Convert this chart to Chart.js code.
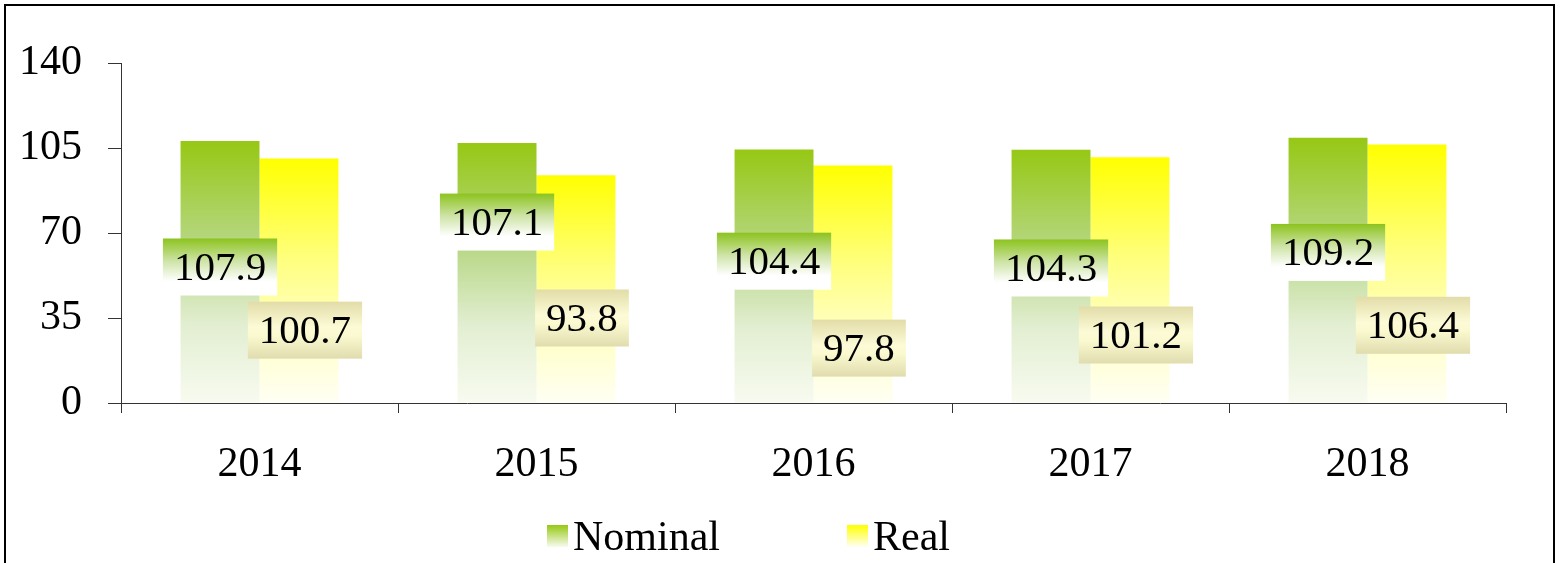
<!DOCTYPE html>
<html>
<head>
<meta charset="utf-8">
<script src="https://cdn.jsdelivr.net/npm/chart.js@4.4.1/dist/chart.umd.min.js"></script>
<style>
    html, body { margin: 0; padding: 0; background: #fff; }
</style>
</head>
<body>
<canvas id="myChart" width="1560" height="563"></canvas>
<script>
const years = ['2014', '2015', '2016', '2017', '2018'];
const nominal = [107.9, 107.1, 104.4, 104.3, 109.2];
const real = [100.7, 93.8, 97.8, 101.2, 106.4];
const yTicks = [0, 35, 70, 105, 140];

// where the value boxes sit (axis units), they were placed by hand in the original
const nominalLabelAt = [56, 74.5, 58.4, 55.6, 62];
const realLabelAt = [30, 35, 22.6, 28, 32];

const serif = "'Liberation Serif', 'Times New Roman', serif";

function barFill(stops) {
    return function (ctx) {
        const chart = ctx.chart;
        if (!chart.chartArea || ctx.raw === undefined) return stops[0][1];
        const y = chart.scales.y;
        const g = chart.ctx.createLinearGradient(0, y.getPixelForValue(ctx.raw), 0, y.getPixelForValue(0));
        stops.forEach(s => g.addColorStop(s[0], s[1]));
        return g;
    };
}

const nominalStops = [[0, '#96c814'], [0.4, '#b7d785'], [0.7, '#e2eed1'], [1, '#f8fbf0']];
const realStops = [[0, '#ffff00'], [0.4, '#ffff7a'], [0.7, '#ffffc4'], [1, '#fffff4']];

const frame = {
    id: 'frame',
    beforeDraw(chart) {
        const c = chart.ctx;
        c.save();
        c.fillStyle = '#fff';
        c.fillRect(0, 0, chart.width, chart.height);
        c.restore();
    },
    afterDraw(chart) {
        const c = chart.ctx;
        c.save();
        c.strokeStyle = '#000';
        c.lineWidth = 2;
        c.strokeRect(5, 5, chart.width - 11, chart.height + 20);
        c.restore();
    }
};

const valueBoxes = {
    id: 'valueBoxes',
    afterDatasetsDraw(chart) {
        const c = chart.ctx;
        const y = chart.scales.y;
        c.save();
        c.font = '41px ' + serif;
        c.textAlign = 'center';
        c.textBaseline = 'middle';
        chart.data.datasets.forEach(function (ds, di) {
            const meta = chart.getDatasetMeta(di);
            const at = di === 0 ? nominalLabelAt : realLabelAt;
            meta.data.forEach(function (bar, i) {
                const txt = ds.data[i].toFixed(1);
                const w = c.measureText(txt).width + 22;
                const h = 57;
                const cx = bar.x + (di === 0 ? 0 : 6);
                const cy = y.getPixelForValue(at[i]);
                const g = c.createLinearGradient(0, cy - h / 2, 0, cy + h / 2);
                if (di === 0) {
                    g.addColorStop(0, '#8cc31e');
                    g.addColorStop(0.4, '#cfe4a8');
                    g.addColorStop(0.75, '#ffffff');
                    g.addColorStop(1, '#ffffff');
                } else {
                    g.addColorStop(0, '#e2dca8');
                    g.addColorStop(0.45, '#fcfbd6');
                    g.addColorStop(0.6, '#faf9cf');
                    g.addColorStop(1, '#e0dcae');
                }
                c.fillStyle = g;
                c.fillRect(cx - w / 2, cy - h / 2, w, h);
                c.fillStyle = '#000';
                c.fillText(txt, cx, cy + 2);
            });
        });
        c.restore();
    }
};

const legendBoxes = {
    id: 'legendBoxes',
    afterDraw(chart) {
        const c = chart.ctx;
        const items = [
            { text: 'Nominal', x: 547, stops: nominalStops },
            { text: 'Real', x: 847, stops: realStops }
        ];
        c.save();
        c.font = '42px ' + serif;
        c.textBaseline = 'middle';
        c.textAlign = 'left';
        items.forEach(function (it) {
            const g = c.createLinearGradient(0, 525, 0, 547);
            g.addColorStop(0, it.stops[0][1]);
            g.addColorStop(1, it.stops[3][1]);
            c.fillStyle = g;
            c.fillRect(it.x, 525, 21, 22);
            c.fillStyle = '#000';
            c.fillText(it.text, it.x + 26, 539);
        });
        c.restore();
    }
};

let myChart = new Chart("myChart", {
    type: "bar",
    data: {
        labels: years,
        datasets: [{
            label: 'Nominal',
            data: nominal,
            backgroundColor: barFill(nominalStops),
            borderWidth: 0
        },
        {
            label: 'Real',
            data: real,
            backgroundColor: barFill(realStops),
            borderWidth: 0
        }]
    },
    options: {
        responsive: false,
        animation: false,
        layout: { padding: { top: 63, right: 54, left: 0, bottom: 0 } },
        datasets: { bar: { categoryPercentage: 0.57, barPercentage: 1.0 } },
        plugins: {
            legend: { display: false },
            tooltip: { enabled: false }
        },
        scales: {
            x: {
                grid: { drawOnChartArea: false, drawTicks: true, tickLength: 10, color: '#333', offset: true },
                border: { color: '#333', width: 1 },
                ticks: { color: '#000', font: { family: serif, size: 42 }, padding: 27 },
                afterFit(scale) { scale.height = 160; }
            },
            y: {
                min: 0,
                max: 140,
                afterBuildTicks(scale) { scale.ticks = yTicks.map(v => ({ value: v })); },
                grid: { drawOnChartArea: false, drawTicks: true, tickLength: 13, color: '#333' },
                border: { color: '#333', width: 1 },
                ticks: { color: '#000', font: { family: serif, size: 42 }, padding: 26 },
                afterFit(scale) { scale.width = 121; }
            }
        }
    },
    plugins: [frame, valueBoxes, legendBoxes]
});
</script>
</body>
</html>
